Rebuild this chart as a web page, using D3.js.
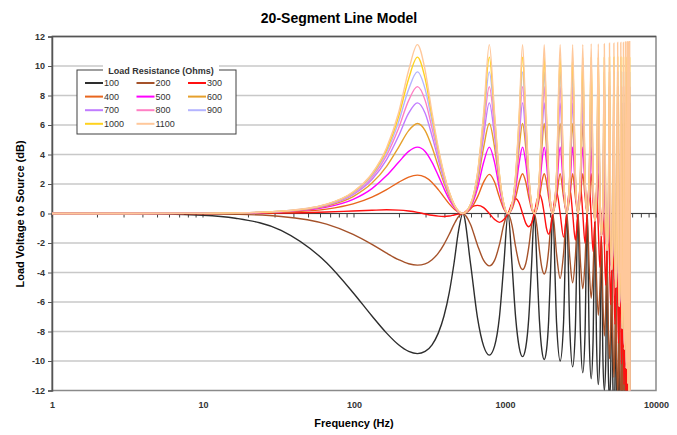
<!DOCTYPE html>
<html>
<head>
<meta charset="utf-8">
<title>20-Segment Line Model</title>
<script src="https://d3js.org/d3.v7.min.js"></script>
<style>
  body { margin: 0; background: #fff; }
  text { font-family: Arial, "Liberation Sans", sans-serif; }
  .grid line { stroke: #c8c8c8; stroke-width: 1.6; }
  .tick-label text { font-size: 9px; font-weight: bold; fill: #333; }
  .curve { fill: none; stroke-width: 1.4; }
  .legend text { font-size: 9px; fill: #333; }
</style>
</head>
<body>
<div id="chart"></div>
<script>
// frequency points (Hz), shared by every series
var freqHz = [
  1, 3, 10, 16.4, 32.9, 65.8, 98.7, 131.5, 164.4, 197.3, 230.2, 263.0, 295.9, 328.8, 361.6, 394.4, 427.3, 460.1, 492.9,
  525.7, 591.2, 656.7, 722.1, 787.5, 852.8, 918.0, 983.1,
  1048.1, 1113.0, 1177.9, 1242.5, 1307.1, 1371.6, 1435.9, 1500.1,
  1564.1, 1628.0, 1691.8, 1755.3, 1818.6, 1881.9, 1944.9, 2007.7,
  2070.4, 2194.9, 2319.0, 2442.0,
  2564.0, 2685.2, 2805.0, 2923.9,
  3041.7, 3158.4, 3273.8, 3388.1,
  3500.8, 3612.3, 3722.3, 3830.8,
  3938.2, 4044.1, 4147.9, 4250.4,
  4351.3, 4450.4, 4548.0, 4643.8,
  4737.6, 4829.6, 4919.9, 5008.2,
  5094.7, 5179.2, 5261.6, 5342.0,
  5420.4, 5496.7, 5570.8, 5642.8,
  5712.7, 5780.2, 5845.8, 5908.9,
  5969.8, 6028.2, 6084.5, 6138.3,
  6190.0, 6239.1, 6285.9, 6330.2,
  6372.1, 6411.5, 6448.5, 6482.9,
  6514.9, 6544.3, 6571.3, 6595.7,
  6617.5, 6636.8, 6653.6, 6667.7,
  6679.4, 6688.4, 6694.8, 6698.7,
  6700, 6750, 7000
];

var loads = [100, 200, 300, 400, 500, 600, 700, 800, 900, 1000, 1100];
var lineColors = ["#2e2e2e", "#a5522a", "#ff1010", "#e8661e", "#ff00ff", "#e6a02c",
                  "#c07cff", "#ff80c4", "#b4b4ff", "#ffd21e", "#ffc89b"];

var yTicks = [-12, -10, -8, -6, -4, -2, 0, 2, 4, 6, 8, 10, 12];
var xTicks = [1, 10, 100, 1000, 10000];

// load voltage to source (dB), one array per load resistance
var db100 = [
  0, -0.01, -0.12, -0.32, -1.14, -3.34, -5.37, -6.95, -8.11, -8.90, -9.35, -9.50, -9.35, -8.90, -8.11, -6.95, -5.37, -3.34, -1.14,
  0, -3.40, -7.04, -8.99, -9.60, -8.99, -7.04, -3.40,
  0, -3.46, -7.13, -9.09, -9.70, -9.09, -7.13, -3.46,
  0, -3.59, -7.31, -9.29, -9.90, -9.29, -7.31, -3.59,
  0, -7.40, -10.0, -7.40,
  0, -7.77, -10.4, -7.77,
  0, -8.14, -10.8, -8.14,
  0, -8.5, -11.2, -8.6,
  -0.5, -9.0, -11.6, -9.4,
  -1.5, -9.8, -12.0, -10.2,
  -2.5, -10.6, -12.6, -11.0,
  -3.8, -11.5, -13.4, -12.0,
  -5.0, -12.5, -14.4, -13.0,
  -6.3, -13.8, -15.6, -14.3,
  -7.8, -15.0, -17.0, -15.8,
  -9.2, -16.5, -18.5, -17.2,
  -10.5, -17.8, -19.8, -18.4,
  -11.5, -18.8, -20.8, -19.4,
  -12.5, -19.8, -21.8, -20.4,
  -13.5, -21.0, -23.0, -22.0,
  -15, -25, -40
];
var db200 = [
  0, 0, -0.02, -0.05, -0.20, -0.72, -1.41, -2.09, -2.69, -3.13, -3.41, -3.50, -3.41, -3.13, -2.69, -2.09, -1.41, -0.72, -0.20,
  0, -0.74, -2.13, -3.18, -3.55, -3.18, -2.13, -0.74,
  0, -0.81, -2.30, -3.41, -3.80, -3.41, -2.30, -0.81,
  0, -0.90, -2.52, -3.69, -4.10, -3.69, -2.52, -0.90,
  0, -2.73, -4.4, -2.73,
  0, -2.96, -4.7, -2.96,
  0, -3.26, -5.1, -3.26,
  0, -3.70, -5.75, -3.95,
  -0.5, -4.63, -6.9, -5.13,
  -1.5, -5.95, -8.3, -6.45,
  -2.5, -7.36, -9.85, -8.01,
  -3.8, -8.63, -11.1, -9.23,
  -5.0, -9.86, -12.35, -10.51,
  -6.3, -11.21, -13.75, -11.96,
  -7.8, -12.68, -15.2, -13.38,
  -9.2, -14.06, -16.55, -14.71,
  -10.5, -15.28, -17.7, -15.78,
  -11.5, -16.28, -18.7, -16.78,
  -12.5, -17.28, -19.7, -17.78,
  -13.5, -18.41, -20.95, -19.16,
  -15, -25, -40
];
var db300 = [
  0, 0, 0, 0.01, 0.03, 0.10, 0.17, 0.22, 0.25, 0.23, 0.17, 0.08, -0.03, -0.12, -0.18, -0.20, -0.17, -0.10, -0.04,
  0, 0.40, 0.55, 0.40, 0, -0.40, -0.60, -0.40,
  0, 0.70, 1.00, 0.70, 0, -0.65, -0.90, -0.65,
  0, 0.90, 1.30, 0.90, 0, -1.00, -1.40, -1.00,
  0, 1.5, 0, -1.6,
  0, 1.7, 0, -1.8,
  0, 1.9, 0, -2.0,
  0, 1.98, -0.25, -2.58,
  -0.5, 1.55, -1.0, -3.65,
  -1.5, 0.75, -2.0, -4.85,
  -2.5, -0.23, -3.15, -6.18,
  -3.8, -1.4, -4.4, -7.5,
  -5.0, -2.6, -5.65, -8.8,
  -6.3, -3.9, -7.05, -10.2,
  -7.8, -5.4, -8.5, -11.6,
  -9.2, -6.8, -9.85, -12.9,
  -10.5, -8.0, -11.0, -14.0,
  -11.5, -9.0, -12.0, -15.0,
  -12.5, -10.0, -13.0, -16.0,
  -13.5, -11.3, -14.25, -17.3,
  -15, -25, -40
];
var db400 = [
  0, 0, 0.01, 0.02, 0.08, 0.30, 0.65, 1.11, 1.62, 2.11, 2.47, 2.60, 2.47, 2.11, 1.62, 1.11, 0.65, 0.30, 0.08,
  0, 0.30, 1.11, 2.13, 2.65, 2.13, 1.11, 0.30,
  0, 0.30, 1.12, 2.15, 2.70, 2.15, 1.12, 0.30,
  0, 0.30, 1.12, 2.15, 2.70, 2.15, 1.12, 0.30,
  0, 1.11, 2.7, 1.11,
  0, 1.11, 2.7, 1.11,
  0, 1.11, 2.7, 1.11,
  0, 0.99, 2.7, 0.74,
  -0.5, 0.36, 2.7, -0.14,
  -1.5, -0.64, 2.7, -1.14,
  -2.5, -1.72, 2.7, -2.37,
  -3.8, -2.99, 2.7, -3.59,
  -5.0, -4.22, 2.7, -4.87,
  -6.3, -5.57, 2.7, -6.32,
  -7.8, -7.04, 2.7, -7.74,
  -9.2, -8.42, 2.7, -9.07,
  -10.5, -9.64, 2.7, -10.14,
  -11.5, -10.64, 2.7, -11.14,
  -12.5, -11.64, 2.7, -12.14,
  -13.5, -12.77, 2.7, -13.52,
  -15, -25, -40
];
var db500 = [
  0, 0, 0.01, 0.03, 0.11, 0.43, 0.96, 1.69, 2.57, 3.47, 4.21, 4.50, 4.21, 3.47, 2.57, 1.69, 0.96, 0.43, 0.11,
  0, 0.43, 1.69, 3.47, 4.50, 3.47, 1.69, 0.43,
  0, 0.43, 1.69, 3.47, 4.50, 3.47, 1.69, 0.43,
  0, 0.43, 1.69, 3.47, 4.50, 3.47, 1.69, 0.43,
  0, 1.69, 4.5, 1.69,
  0, 1.69, 4.5, 1.69,
  0, 1.69, 4.5, 1.69,
  0, 1.57, 4.5, 1.32,
  -0.5, 0.94, 4.5, 0.44,
  -1.5, -0.06, 4.5, -0.56,
  -2.5, -1.14, 4.5, -1.79,
  -3.8, -2.41, 4.5, -3.01,
  -5.0, -3.64, 4.5, -4.29,
  -6.3, -4.99, 4.5, -5.74,
  -7.8, -6.46, 4.5, -7.16,
  -9.2, -7.84, 4.5, -8.49,
  -10.5, -9.06, 4.5, -9.56,
  -11.5, -10.06, 4.5, -10.56,
  -12.5, -11.06, 4.5, -11.56,
  -13.5, -12.19, 4.5, -12.94,
  -15, -25, -40
];
var db600 = [
  0, 0, 0.01, 0.03, 0.13, 0.51, 1.15, 2.06, 3.20, 4.49, 5.62, 6.10, 5.62, 4.49, 3.20, 2.06, 1.15, 0.51, 0.13,
  0, 0.51, 2.06, 4.49, 6.10, 4.49, 2.06, 0.51,
  0, 0.51, 2.06, 4.49, 6.10, 4.49, 2.06, 0.51,
  0, 0.51, 2.06, 4.49, 6.10, 4.49, 2.06, 0.51,
  0, 2.06, 6.1, 2.06,
  0, 2.06, 6.1, 2.06,
  0, 2.06, 6.1, 2.06,
  0, 1.94, 6.1, 1.69,
  -0.5, 1.31, 6.1, 0.81,
  -1.5, 0.31, 6.1, -0.19,
  -2.5, -0.77, 6.1, -1.42,
  -3.8, -2.04, 6.1, -2.64,
  -5.0, -3.27, 6.1, -3.92,
  -6.3, -4.62, 6.1, -5.37,
  -7.8, -6.09, 6.1, -6.79,
  -9.2, -7.47, 6.1, -8.12,
  -10.5, -8.69, 6.1, -9.19,
  -11.5, -9.69, 6.1, -10.19,
  -12.5, -10.69, 6.1, -11.19,
  -13.5, -11.82, 6.1, -12.57,
  -15, -25, -40
];
var db700 = [
  0, 0, 0.01, 0.03, 0.14, 0.56, 1.27, 2.30, 3.65, 5.25, 6.80, 7.50, 6.80, 5.25, 3.65, 2.30, 1.27, 0.56, 0.14,
  0, 0.56, 2.30, 5.25, 7.50, 5.25, 2.30, 0.56,
  0, 0.56, 2.30, 5.25, 7.50, 5.25, 2.30, 0.56,
  0, 0.56, 2.30, 5.25, 7.50, 5.25, 2.30, 0.56,
  0, 2.3, 7.5, 2.3,
  0, 2.3, 7.5, 2.3,
  0, 2.3, 7.5, 2.3,
  0, 2.18, 7.5, 1.93,
  -0.5, 1.55, 7.5, 1.05,
  -1.5, 0.55, 7.5, 0.05,
  -2.5, -0.53, 7.5, -1.18,
  -3.8, -1.8, 7.5, -2.4,
  -5.0, -3.03, 7.5, -3.68,
  -6.3, -4.38, 7.5, -5.13,
  -7.8, -5.85, 7.5, -6.55,
  -9.2, -7.23, 7.5, -7.88,
  -10.5, -8.45, 7.5, -8.95,
  -11.5, -9.45, 7.5, -9.95,
  -12.5, -10.45, 7.5, -10.95,
  -13.5, -11.58, 7.5, -12.33,
  -15, -25, -40
];
var db800 = [
  0, 0, 0.01, 0.04, 0.14, 0.59, 1.34, 2.45, 3.94, 5.78, 7.67, 8.60, 7.67, 5.78, 3.94, 2.45, 1.34, 0.59, 0.14,
  0, 0.59, 2.45, 5.78, 8.60, 5.78, 2.45, 0.59,
  0, 0.59, 2.45, 5.78, 8.60, 5.78, 2.45, 0.59,
  0, 0.59, 2.45, 5.78, 8.60, 5.78, 2.45, 0.59,
  0, 2.45, 8.6, 2.45,
  0, 2.45, 8.6, 2.45,
  0, 2.45, 8.6, 2.45,
  0, 2.33, 8.6, 2.08,
  -0.5, 1.7, 8.6, 1.2,
  -1.5, 0.7, 8.6, 0.2,
  -2.5, -0.38, 8.6, -1.03,
  -3.8, -1.65, 8.6, -2.25,
  -5.0, -2.88, 8.6, -3.53,
  -6.3, -4.23, 8.6, -4.98,
  -7.8, -5.7, 8.6, -6.4,
  -9.2, -7.08, 8.6, -7.73,
  -10.5, -8.3, 8.6, -8.8,
  -11.5, -9.3, 8.6, -9.8,
  -12.5, -10.3, 8.6, -10.8,
  -13.5, -11.43, 8.6, -12.18,
  -15, -25, -40
];
var db900 = [
  0, 0, 0.01, 0.04, 0.15, 0.61, 1.40, 2.56, 4.15, 6.20, 8.43, 9.60, 8.43, 6.20, 4.15, 2.56, 1.40, 0.61, 0.15,
  0, 0.61, 2.56, 6.20, 9.60, 6.20, 2.56, 0.61,
  0, 0.61, 2.56, 6.20, 9.60, 6.20, 2.56, 0.61,
  0, 0.61, 2.56, 6.20, 9.60, 6.20, 2.56, 0.61,
  0, 2.56, 9.6, 2.56,
  0, 2.56, 9.6, 2.56,
  0, 2.56, 9.6, 2.56,
  0, 2.44, 9.6, 2.19,
  -0.5, 1.81, 9.6, 1.31,
  -1.5, 0.81, 9.6, 0.31,
  -2.5, -0.27, 9.6, -0.92,
  -3.8, -1.54, 9.6, -2.14,
  -5.0, -2.77, 9.6, -3.42,
  -6.3, -4.12, 9.6, -4.87,
  -7.8, -5.59, 9.6, -6.29,
  -9.2, -6.97, 9.6, -7.62,
  -10.5, -8.19, 9.6, -8.69,
  -11.5, -9.19, 9.6, -9.69,
  -12.5, -10.19, 9.6, -10.69,
  -13.5, -11.32, 9.6, -12.07,
  -15, -25, -40
];
var db1000 = [
  0, 0, 0.01, 0.04, 0.15, 0.62, 1.44, 2.65, 4.33, 6.56, 9.14, 10.60, 9.14, 6.56, 4.33, 2.65, 1.44, 0.62, 0.15,
  0, 0.62, 2.65, 6.56, 10.60, 6.56, 2.65, 0.62,
  0, 0.62, 2.65, 6.56, 10.60, 6.56, 2.65, 0.62,
  0, 0.62, 2.65, 6.56, 10.60, 6.56, 2.65, 0.62,
  0, 2.65, 10.6, 2.65,
  0, 2.65, 10.6, 2.65,
  0, 2.65, 10.6, 2.65,
  0, 2.53, 10.6, 2.28,
  -0.5, 1.9, 10.6, 1.4,
  -1.5, 0.9, 10.6, 0.4,
  -2.5, -0.18, 10.6, -0.83,
  -3.8, -1.45, 10.6, -2.05,
  -5.0, -2.68, 10.6, -3.33,
  -6.3, -4.03, 10.6, -4.78,
  -7.8, -5.5, 10.6, -6.2,
  -9.2, -6.88, 10.6, -7.53,
  -10.5, -8.1, 10.6, -8.6,
  -11.5, -9.1, 10.6, -9.6,
  -12.5, -10.1, 10.6, -10.6,
  -13.5, -11.23, 10.6, -11.98,
  -15, -25, -40
];
var db1100 = [
  0, 0, 0.01, 0.04, 0.16, 0.63, 1.47, 2.71, 4.46, 6.83, 9.71, 11.45, 9.71, 6.83, 4.46, 2.71, 1.47, 0.63, 0.16,
  0, 0.63, 2.71, 6.83, 11.45, 6.83, 2.71, 0.63,
  0, 0.63, 2.71, 6.83, 11.45, 6.83, 2.71, 0.63,
  0, 0.63, 2.71, 6.83, 11.45, 6.83, 2.71, 0.63,
  0, 2.71, 11.45, 2.71,
  0, 2.71, 11.45, 2.71,
  0, 2.71, 11.45, 2.71,
  0, 2.59, 11.5, 2.34,
  -0.5, 1.96, 11.5, 1.46,
  -1.5, 0.96, 11.5, 0.46,
  -2.5, -0.12, 11.55, -0.77,
  -3.8, -1.39, 11.55, -1.99,
  -5.0, -2.62, 11.6, -3.27,
  -6.3, -3.97, 11.6, -4.72,
  -7.8, -5.44, 11.6, -6.14,
  -9.2, -6.82, 11.65, -7.47,
  -10.5, -8.04, 11.65, -8.54,
  -11.5, -9.04, 11.65, -9.54,
  -12.5, -10.04, 11.7, -10.54,
  -13.5, -11.17, 11.7, -11.92,
  -15, -25, -40
];

var series = [db100, db200, db300, db400, db500, db600, db700, db800, db900, db1000, db1100];

drawChart();

function drawChart() {
  var outerWidth = 677;
  var outerHeight = 435;
  var plot = { left: 52, right: 656, top: 36.5, bottom: 390.5 };

  var svg = d3.select("#chart").append("svg")
      .attr("width", outerWidth)
      .attr("height", outerHeight);

  var x = d3.scaleLog()
      .domain([1, 10000])
      .range([plot.left, plot.right]);

  var y = d3.scaleLinear()
      .domain([-12, 12])
      .range([plot.bottom, plot.top]);

  // gridlines
  svg.append("g")
      .attr("class", "grid")
    .selectAll("line")
    .data(yTicks.filter(d => d !== 12 && d !== -12))
    .enter().append("line")
      .attr("x1", plot.left)
      .attr("x2", plot.right)
      .attr("y1", d => y(d))
      .attr("y2", d => y(d));

  // plot area border
  svg.append("rect")
      .attr("x", plot.left)
      .attr("y", plot.top)
      .attr("width", plot.right - plot.left)
      .attr("height", plot.bottom - plot.top)
      .attr("fill", "none")
      .attr("stroke", "#8a8a8a")
      .attr("stroke-width", 1.5);
  svg.append("line")
      .attr("x1", plot.left).attr("x2", plot.right)
      .attr("y1", plot.top).attr("y2", plot.top)
      .attr("stroke", "#555").attr("stroke-width", 1.5);

  // y axis
  var yAxis = d3.axisLeft(y)
      .tickValues(yTicks)
      .tickSize(4)
      .tickPadding(3)
      .tickFormat(d => String(d));
  var gy = svg.append("g")
      .attr("class", "tick-label")
      .attr("transform", `translate(${plot.left},0)`)
      .call(yAxis);
  gy.select(".domain").attr("stroke", "#555").attr("stroke-width", 1.5);
  gy.selectAll(".tick line").attr("stroke", "#555");

  // x axis labels along the bottom
  var xAxis = d3.axisBottom(x)
      .tickValues(xTicks)
      .tickSize(0)
      .tickPadding(11)
      .tickFormat(d => String(d));
  var gx = svg.append("g")
      .attr("class", "tick-label")
      .attr("transform", `translate(0,${plot.bottom})`)
      .call(xAxis);
  gx.select(".domain").remove();

  // axis line crossing at 0 dB, log ticks pointing down
  var zero = svg.append("g");
  zero.append("line")
      .attr("x1", plot.left).attr("x2", plot.right)
      .attr("y1", y(0)).attr("y2", y(0))
      .attr("stroke", "#404040")
      .attr("stroke-width", 1.2);
  zero.selectAll(".ztick")
      .data(x.ticks())
      .enter().append("line")
      .attr("class", "ztick")
      .attr("x1", d => x(d)).attr("x2", d => x(d))
      .attr("y1", y(0)).attr("y2", y(0) + 4)
      .attr("stroke", "#404040")
      .attr("stroke-width", 1);

  // curves
  svg.append("clipPath")
      .attr("id", "plotClip")
    .append("rect")
      .attr("x", plot.left)
      .attr("y", plot.top)
      .attr("width", plot.right - plot.left)
      .attr("height", plot.bottom - plot.top);

  var line = d3.line()
      .x((d, i) => x(freqHz[i]))
      .y(d => y(d))
      .curve(d3.curveMonotoneX);

  svg.append("g")
      .attr("clip-path", "url(#plotClip)")
    .selectAll("path")
    .data(series)
    .enter().append("path")
      .attr("class", "curve")
      .attr("stroke", (d, i) => lineColors[i])
      .attr("d", line);

  // titles
  svg.append("text")
      .attr("x", 339)
      .attr("y", 23)
      .attr("text-anchor", "middle")
      .style("font-size", "14px")
      .style("font-weight", "bold")
      .text("20-Segment Line Model");

  svg.append("text")
      .attr("x", (plot.left + plot.right) / 2)
      .attr("y", 427)
      .attr("text-anchor", "middle")
      .style("font-size", "11px")
      .style("font-weight", "bold")
      .text("Frequency (Hz)");

  svg.append("text")
      .attr("transform", "translate(24,214) rotate(-90)")
      .attr("text-anchor", "middle")
      .style("font-size", "11px")
      .style("font-weight", "bold")
      .text("Load Voltage to Source (dB)");

  // legend
  var legend = svg.append("g").attr("class", "legend");
  legend.append("rect")
      .attr("x", 77).attr("y", 70)
      .attr("width", 159).attr("height", 64)
      .attr("fill", "#fff")
      .attr("stroke", "#404040")
      .attr("stroke-width", 1);
  legend.append("rect")
      .attr("x", 103).attr("y", 65)
      .attr("width", 116).attr("height", 11)
      .attr("fill", "#fff");
  legend.append("text")
      .attr("x", 161).attr("y", 74)
      .attr("text-anchor", "middle")
      .style("font-weight", "bold")
      .style("font-size", "9px")
      .text("Load Resistance (Ohms)");

  var item = legend.selectAll(".item")
      .data(loads)
      .enter().append("g")
      .attr("class", "item")
      .attr("transform", (d, i) => `translate(${85 + (i % 3) * 51.5},${83 + Math.floor(i / 3) * 13.6})`);
  item.append("line")
      .attr("x1", 0).attr("x2", 18)
      .attr("stroke", (d, i) => lineColors[i])
      .attr("stroke-width", 2);
  item.append("text")
      .attr("x", 19)
      .attr("dy", "0.35em")
      .text(d => d);
}
</script>
</body>
</html>
